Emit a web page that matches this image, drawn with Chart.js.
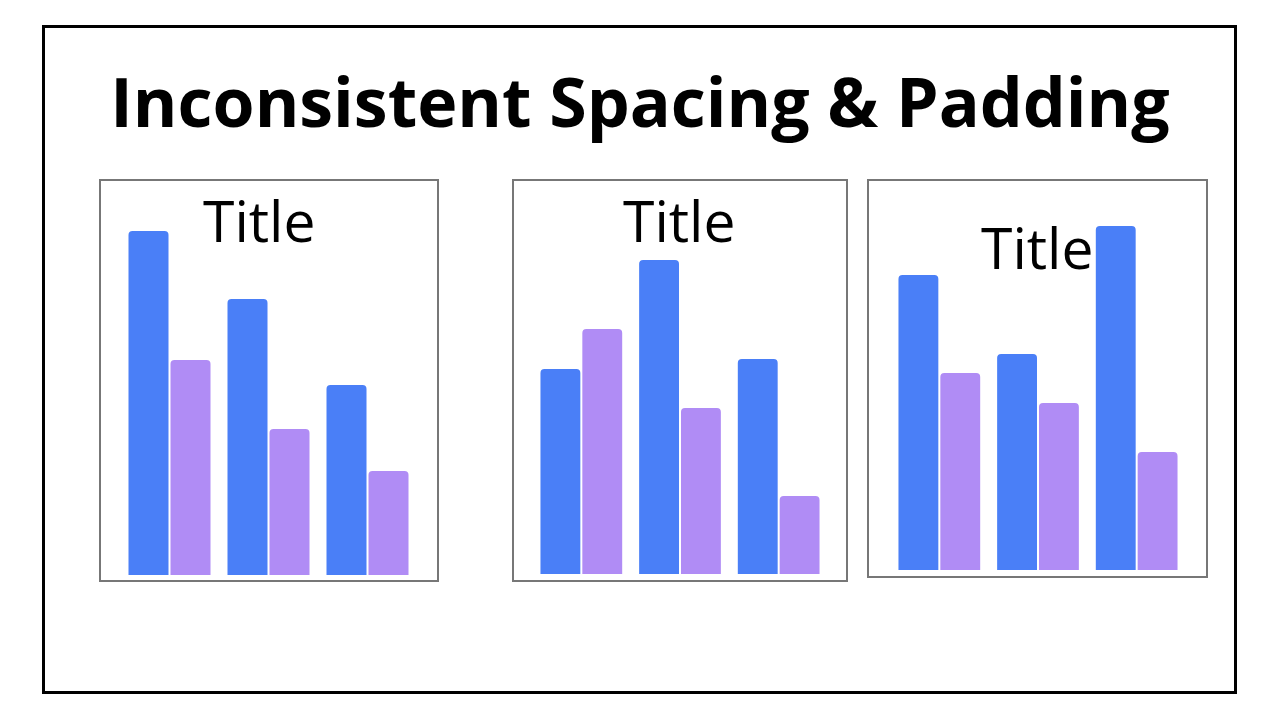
<!DOCTYPE html>
<html>
<head>
<meta charset="utf-8">
<script src="https://cdn.jsdelivr.net/npm/chart.js@4/dist/chart.umd.min.js"></script>
<style>
  html, body { margin: 0; padding: 0; background: #fff; }
  body { width: 1280px; height: 720px; position: relative; overflow: hidden; font-family: "Open Sans", sans-serif; }
  .frame { position: absolute; left: 42px; top: 25px; width: 1195px; height: 669px; box-sizing: border-box; border: 3px solid #000; }
  .heading { position: absolute; left: 0; width: 1280px; top: 67px; text-align: center; font-size: 68px; font-weight: 700; line-height: 1; color: #000; white-space: nowrap; }
  .panel { position: absolute; box-sizing: border-box; border: 2px solid #777; background: #fff; }
  .panel canvas { position: absolute; left: 0; top: 0; }
  .ptitle { position: absolute; font-size: 57px; line-height: 1; font-weight: 400; color: #000; white-space: nowrap; }
  #p1 { left: 99px; top: 179px; width: 340px; height: 403px; }
  #p2 { left: 512px; top: 179px; width: 336px; height: 403px; }
  #p3 { left: 867px; top: 179px; width: 341px; height: 399px; }
  #t1 { left: 203px; top: 192px; }
  #t2 { left: 623px; top: 192px; }
  #t3 { left: 981px; top: 219px; }
</style>
</head>
<body>
<div class="frame"></div>
<div class="heading">Inconsistent Spacing &amp; Padding</div>

<div class="panel" id="p1"><canvas id="c1"></canvas></div>
<div class="panel" id="p2"><canvas id="c2"></canvas></div>
<div class="panel" id="p3"><canvas id="c3"></canvas></div>

<div class="ptitle" id="t1">Title</div>
<div class="ptitle" id="t2">Title</div>
<div class="ptitle" id="t3">Title</div>

<script>
// bar heights (same units as each panel's axis max)
const groups = ['A', 'B', 'C'];
const panel1Blue = [344, 276, 190];
const panel1Purple = [215, 146, 104];
const panel2Blue = [205, 314, 215];
const panel2Purple = [245, 166, 78];
const panel3Blue = [295, 216, 344];
const panel3Purple = [197, 167, 118];

const BLUE = '#4a7ff7';
const PURPLE = '#b08cf5';

function makePanel(canvasId, w, h, blue, purple, yMax, pad) {
    const el = document.getElementById(canvasId);
    el.width = w;
    el.height = h;
    el.style.width = w + 'px';
    el.style.height = h + 'px';
    return new Chart(el, {
        type: 'bar',
        data: {
            labels: groups,
            datasets: [
                { data: blue, backgroundColor: BLUE, borderRadius: 4, borderWidth: 0 },
                { data: purple, backgroundColor: PURPLE, borderRadius: 4, borderWidth: 0 }
            ]
        },
        options: {
            responsive: false,
            animation: false,
            devicePixelRatio: 1,
            layout: { padding: pad },
            categoryPercentage: 84 / 99,
            barPercentage: 40 / 42,
            plugins: { legend: { display: false }, tooltip: { enabled: false }, title: { display: false } },
            scales: {
                x: { display: false, offset: true },
                y: { display: false, min: 0, max: yMax }
            }
        }
    });
}

makePanel('c1', 336, 399, panel1Blue, panel1Purple, 394, { left: 19, right: 20, top: 0, bottom: 5 });
makePanel('c2', 332, 399, panel2Blue, panel2Purple, 393, { left: 18, right: 18, top: 0, bottom: 6 });
makePanel('c3', 337, 395, panel3Blue, panel3Purple, 389, { left: 21, right: 20, top: 0, bottom: 6 });
</script>
</body>
</html>
